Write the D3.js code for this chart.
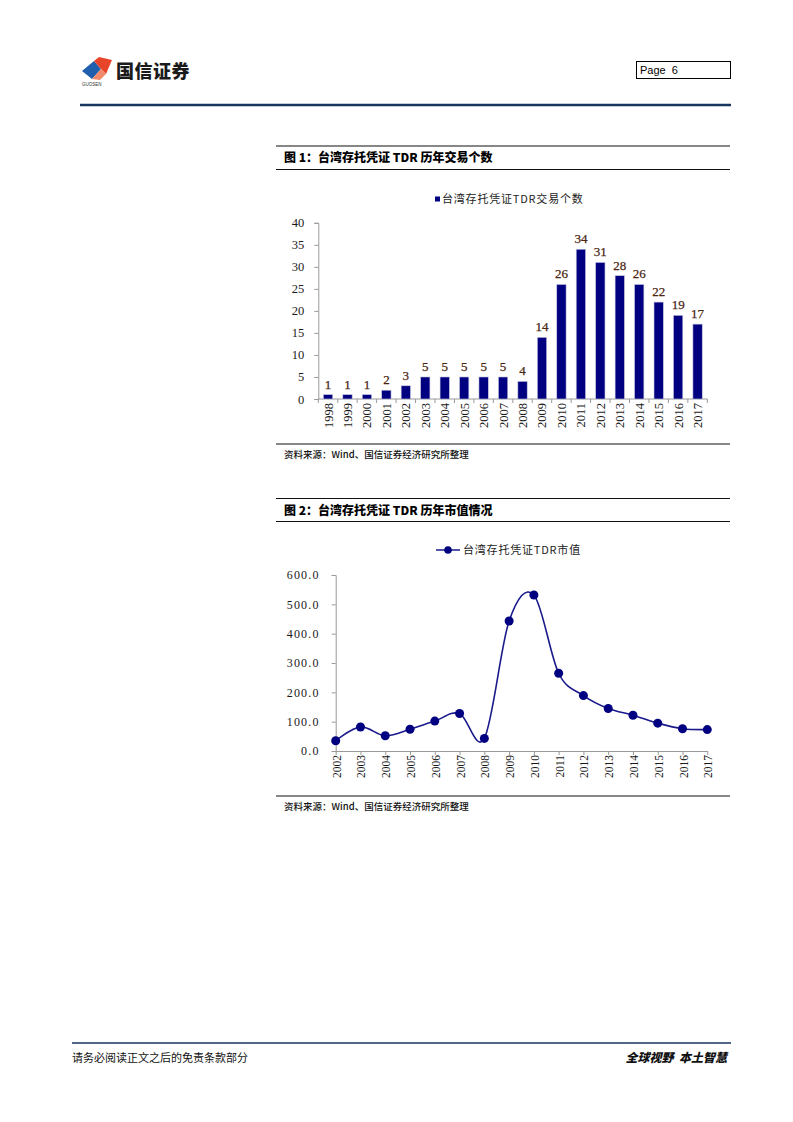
<!DOCTYPE html>
<html><head><meta charset="utf-8">
<script src="https://cdn.jsdelivr.net/npm/d3@7/dist/d3.min.js"></script>
<style>
html,body{margin:0;padding:0;background:#fff;}
svg{display:block;}
</style></head>
<body>
<svg id="page" width="793" height="1122"></svg>
<script>
// ---------- DATA ----------
const years1 = ["1998","1999","2000","2001","2002","2003","2004","2005","2006","2007","2008","2009","2010","2011","2012","2013","2014","2015","2016","2017"];
const counts = [1,1,1,2,3,5,5,5,5,5,4,14,26,34,31,28,26,22,19,17];
const yTicks1 = [0,5,10,15,20,25,30,35,40];

const years2 = ["2002","2003","2004","2005","2006","2007","2008","2009","2010","2011","2012","2013","2014","2015","2016","2017"];
const marketValue = [35,82,52,74,102,128,43,443,532,265,189,145,122,95,76,73];
const yTicks2 = [0,100,200,300,400,500,600];

const title1 = "图 1：台湾存托凭证 TDR 历年交易个数";
const title2 = "图 2：台湾存托凭证 TDR 历年市值情况";
const legend1 = "台湾存托凭证TDR交易个数";
const legend2 = "台湾存托凭证TDR市值";
const sourceText = "资料来源：Wind、国信证券经济研究所整理";

// ---------- PAGE ----------
const svg = d3.select("#page");
const CJK = "'Noto Sans CJK SC','Noto Sans CJK JP',sans-serif";
const SERIF = "'Liberation Serif','Times New Roman',serif";
const NAVY = "#000080";

// header logo
const logo = svg.append("g");
logo.append("path").attr("d","M82,71 L94,61 L101,69 L92,79 Z").attr("fill","#1f5fae");
logo.append("path").attr("d","M94,61 L99,57 L112,60 L106,74 L101,69 Z").attr("fill","#e8442a");
logo.append("path").attr("d","M92,79 L101,69 L106,74 L100,80 Z").attr("fill","#f08a6a");
logo.append("text").attr("x",82).attr("y",86).attr("font-family","'Liberation Sans',Arial,sans-serif")
  .attr("font-size",4.5).attr("fill","#333").text("GUOSEN");
logo.append("text").attr("x",116).attr("y",78).attr("font-family",CJK).attr("font-weight",900)
  .attr("font-size",18).attr("fill","#1a1a1a").attr("letter-spacing",0.5).text("国信证券");

svg.append("rect").attr("x",636.5).attr("y",61.5).attr("width",94).attr("height",17)
  .attr("fill","none").attr("stroke","#000").attr("stroke-width",1);
svg.append("text").attr("x",640).attr("y",74).attr("font-family","'Liberation Sans',Arial,sans-serif")
  .attr("font-size",11).attr("fill","#000").attr("xml:space","preserve").text("Page  6");

svg.append("line").attr("x1",80).attr("x2",731).attr("y1",105).attr("y2",105)
  .attr("stroke","#17365d").attr("stroke-width",2.5);

// footer
svg.append("line").attr("x1",72).attr("x2",731).attr("y1",1043).attr("y2",1043)
  .attr("stroke","#17365d").attr("stroke-width",1.5);
svg.append("text").attr("x",72).attr("y",1062).attr("font-family",CJK).attr("font-size",11)
  .attr("fill","#111").text("请务必阅读正文之后的免责条款部分");
svg.append("text").attr("x",727).attr("y",1062).attr("text-anchor","end").attr("font-family",CJK)
  .attr("font-size",12).attr("font-weight",900).attr("font-style","italic").attr("fill","#111")
  .attr("xml:space","preserve").text("全球视野  本土智慧");

// title blocks
function titleBlock(yTop, yBot, text){
  svg.append("line").attr("x1",276).attr("x2",730).attr("y1",yTop).attr("y2",yTop).attr("stroke","#111").attr("stroke-width",1.2);
  svg.append("line").attr("x1",276).attr("x2",730).attr("y1",yBot).attr("y2",yBot).attr("stroke","#111").attr("stroke-width",1.2);
  svg.append("text").attr("x",284).attr("y",(yTop+yBot)/2+4.5).attr("font-family",CJK).attr("font-weight",900)
    .attr("font-size",12).attr("fill","#000").text(text);
}
function sourceBlock(yLine){
  svg.append("line").attr("x1",276).attr("x2",730).attr("y1",yLine).attr("y2",yLine).attr("stroke","#111").attr("stroke-width",1.2);
  svg.append("text").attr("x",284).attr("y",yLine+14).attr("font-family",CJK).attr("font-weight",500)
    .attr("font-size",9.5).attr("fill","#111").text(sourceText);
}
titleBlock(146, 169.5, title1);
sourceBlock(444);
titleBlock(498.5, 521.5, title2);
sourceBlock(796);

// ---------- CHART 1 : bars ----------
const c1 = svg.append("g");
const x1 = d3.scaleBand().domain(years1).range([318.3, 707.3]).paddingInner(0.52).paddingOuter(0.26);
const y1 = d3.scaleLinear().domain([0,40]).range([399, 222.8]);

// legend
c1.append("rect").attr("x",435).attr("y",196.5).attr("width",5).attr("height",5).attr("fill",NAVY);
c1.append("text").attr("x",442).attr("y",203).attr("font-family",CJK).attr("font-size",11)
  .attr("fill","#222").attr("letter-spacing",0.8).text(legend1);

// y axis
const yAx1 = c1.append("g").attr("transform","translate(318.3,0)")
  .call(d3.axisLeft(y1).tickValues(yTicks1).tickSize(4).tickPadding(10));
yAx1.select(".domain").attr("stroke","#999");
yAx1.selectAll(".tick line").attr("stroke","#999");
yAx1.selectAll(".tick text").attr("font-family",SERIF).attr("font-size",12.5).attr("fill","#1a1a1a");

// x axis baseline + boundary ticks
const step1 = x1.step();
c1.append("line").attr("x1",318.3).attr("x2",707.3).attr("y1",y1(0)).attr("y2",y1(0)).attr("stroke","#999");
c1.selectAll(".bt").data(d3.range(years1.length+1)).join("line")
  .attr("x1",i=>318.3+i*step1).attr("x2",i=>318.3+i*step1)
  .attr("y1",y1(0)).attr("y2",y1(0)+4).attr("stroke","#999");

// bars
c1.selectAll(".bar").data(counts).join("rect")
  .attr("x",(d,i)=>x1(years1[i])).attr("width",x1.bandwidth())
  .attr("y",d=>y1(d)).attr("height",d=>y1(0)-y1(d))
  .attr("fill",NAVY).attr("stroke","#c8c8e0").attr("stroke-width",0.6);

// data labels
c1.selectAll(".lbl").data(counts).join("text")
  .attr("x",(d,i)=>x1(years1[i])+x1.bandwidth()/2).attr("y",d=>y1(d)-6)
  .attr("text-anchor","middle").attr("font-family",SERIF).attr("font-size",13)
  .attr("fill","#4a2612").attr("stroke","#4a2612").attr("stroke-width",0.25).text(d=>d);

// year labels
c1.selectAll(".yr").data(years1).join("text")
  .attr("transform",d=>`translate(${x1(d)+x1.bandwidth()/2+4.5},403) rotate(-90)`)
  .attr("text-anchor","end").attr("font-family",SERIF).attr("font-size",12.5).attr("fill","#1a1a1a")
  .text(d=>d);

// ---------- CHART 2 : line ----------
const c2 = svg.append("g");
const x2 = d3.scalePoint().domain(years2).range([335.7, 707.3]);
const y2 = d3.scaleLinear().domain([0,600]).range([751, 575]);

// legend
c2.append("line").attr("x1",436).attr("x2",460).attr("y1",550).attr("y2",550).attr("stroke","#1a1a8c").attr("stroke-width",1.5);
c2.append("circle").attr("cx",448).attr("cy",550).attr("r",3.8).attr("fill",NAVY);
c2.append("text").attr("x",463).attr("y",554).attr("font-family",CJK).attr("font-size",11)
  .attr("fill","#222").attr("letter-spacing",0.8).text(legend2);

// y axis
const yAx2 = c2.append("g").attr("transform","translate(335.7,0)")
  .call(d3.axisLeft(y2).tickValues(yTicks2).tickSize(4).tickPadding(12).tickFormat(d=>d.toFixed(1)));
yAx2.select(".domain").attr("stroke","#999");
yAx2.selectAll(".tick line").attr("stroke","#999");
yAx2.selectAll(".tick text").attr("font-family",SERIF).attr("font-size",12).attr("fill","#1a1a1a").attr("letter-spacing",1.2);

// x axis
const xAx2 = c2.append("g").attr("transform",`translate(0,${y2(0)})`)
  .call(d3.axisBottom(x2).tickSize(4).tickSizeOuter(0));
xAx2.select(".domain").attr("stroke","#999");
xAx2.selectAll(".tick line").attr("stroke","#999");
xAx2.selectAll(".tick text")
  .attr("transform","translate(4.5,4) rotate(-90)").attr("text-anchor","end").attr("dy",0).attr("y",0).attr("x",0)
  .attr("font-family",SERIF).attr("font-size",11.5).attr("fill","#1a1a1a");

// line
const lineGen = d3.line().x((d,i)=>x2(years2[i])).y(d=>y2(d)).curve(d3.curveCardinal.tension(0));
c2.append("path").datum(marketValue).attr("d",lineGen).attr("fill","none")
  .attr("stroke","#1a1a8c").attr("stroke-width",1.6);
c2.selectAll(".pt").data(marketValue).join("circle")
  .attr("cx",(d,i)=>x2(years2[i])).attr("cy",d=>y2(d)).attr("r",4.5).attr("fill",NAVY);
</script>
</body></html>
